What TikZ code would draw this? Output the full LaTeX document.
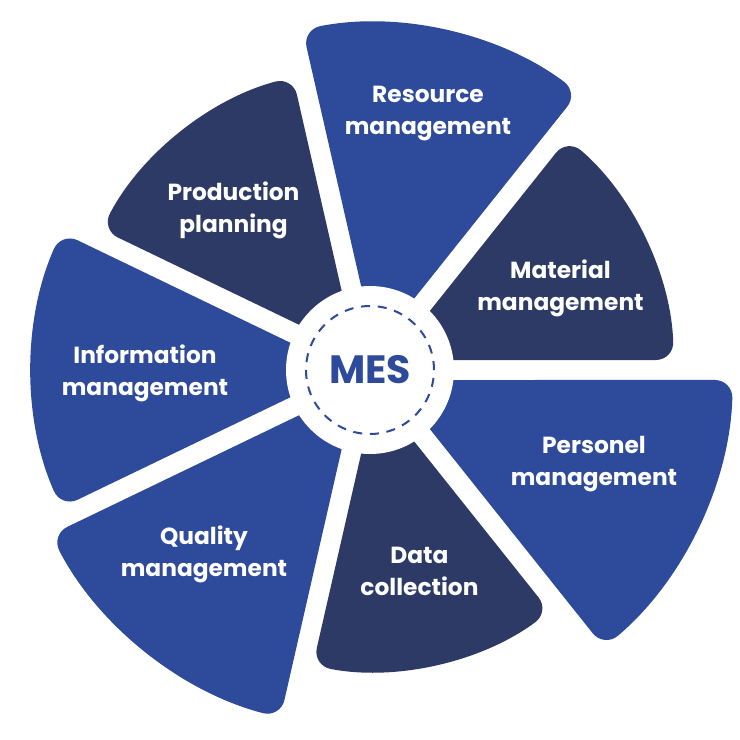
\documentclass[tikz,border=0pt]{standalone}
\usepackage{fontspec}
\setmainfont{Poppins}
\definecolor{mesblue}{RGB}{46,74,154}
\definecolor{mesdark}{RGB}{46,58,102}
\begin{document}
\begin{tikzpicture}[x=1pt,y=1pt,
  lab/.style={text=white, align=center, inner sep=0pt,
    font=\fontsize{23.3}{32}\selectfont\bfseries},
  sectorfill/.style={rounded corners=18pt}]
\useasboundingbox[fill=white] (-370,-370) rectangle (370,370);
\foreach \i/\R/\c in {0/304/mesdark, 1/347/mesblue, 2/303/mesdark, 3/338/mesblue, 4/359/mesblue, 5/301/mesdark, 6/363/mesblue} {
  \pgfmathsetmacro\aA{\i*360/7}
  \pgfmathsetmacro\aB{(\i+1)*360/7}
  \pgfmathsetmacro\dd{asin(10/\R)}
  \pgfmathsetmacro\aS{\aA+\dd}
  \pgfmathsetmacro\aE{\aB-\dd}
  \pgfmathsetmacro\aM{\aA+180/7}
  \fill[\c, sectorfill] (\aM:23.05pt) -- (\aS:\R pt) arc[start angle=\aS, end angle=\aE, radius=\R pt] -- cycle;
}
\fill[white] (0,0) circle[radius=84pt];
\draw[mesblue, line width=2pt, dash pattern=on 9pt off 7.75pt] (0,0) circle[radius=64pt];
\node[text=mesblue, font=\fontsize{39.5}{42}\selectfont\bfseries] (mes) at (0,0) {MES};
\node[lab] (res) at (58,258.4) {\strut Resource\\\strut management};
\node[lab] (mat) at (190.5,82.4) {\strut Material\\\strut management};
\node[lab] (pro) at (-136.5,160.4) {\strut Production\\\strut planning};
\node[lab] (inf) at (-225,-2.6) {\strut Information\\\strut management};
\node[lab] (qua) at (-166,-183.6) {\strut Quality\\\strut management};
\node[lab] (dat) at (49.5,-202.6) {\strut Data\\\strut collection};
\node[lab] (per) at (224,-92.6) {\strut Personel\\\strut management};
\end{tikzpicture}
\end{document}
